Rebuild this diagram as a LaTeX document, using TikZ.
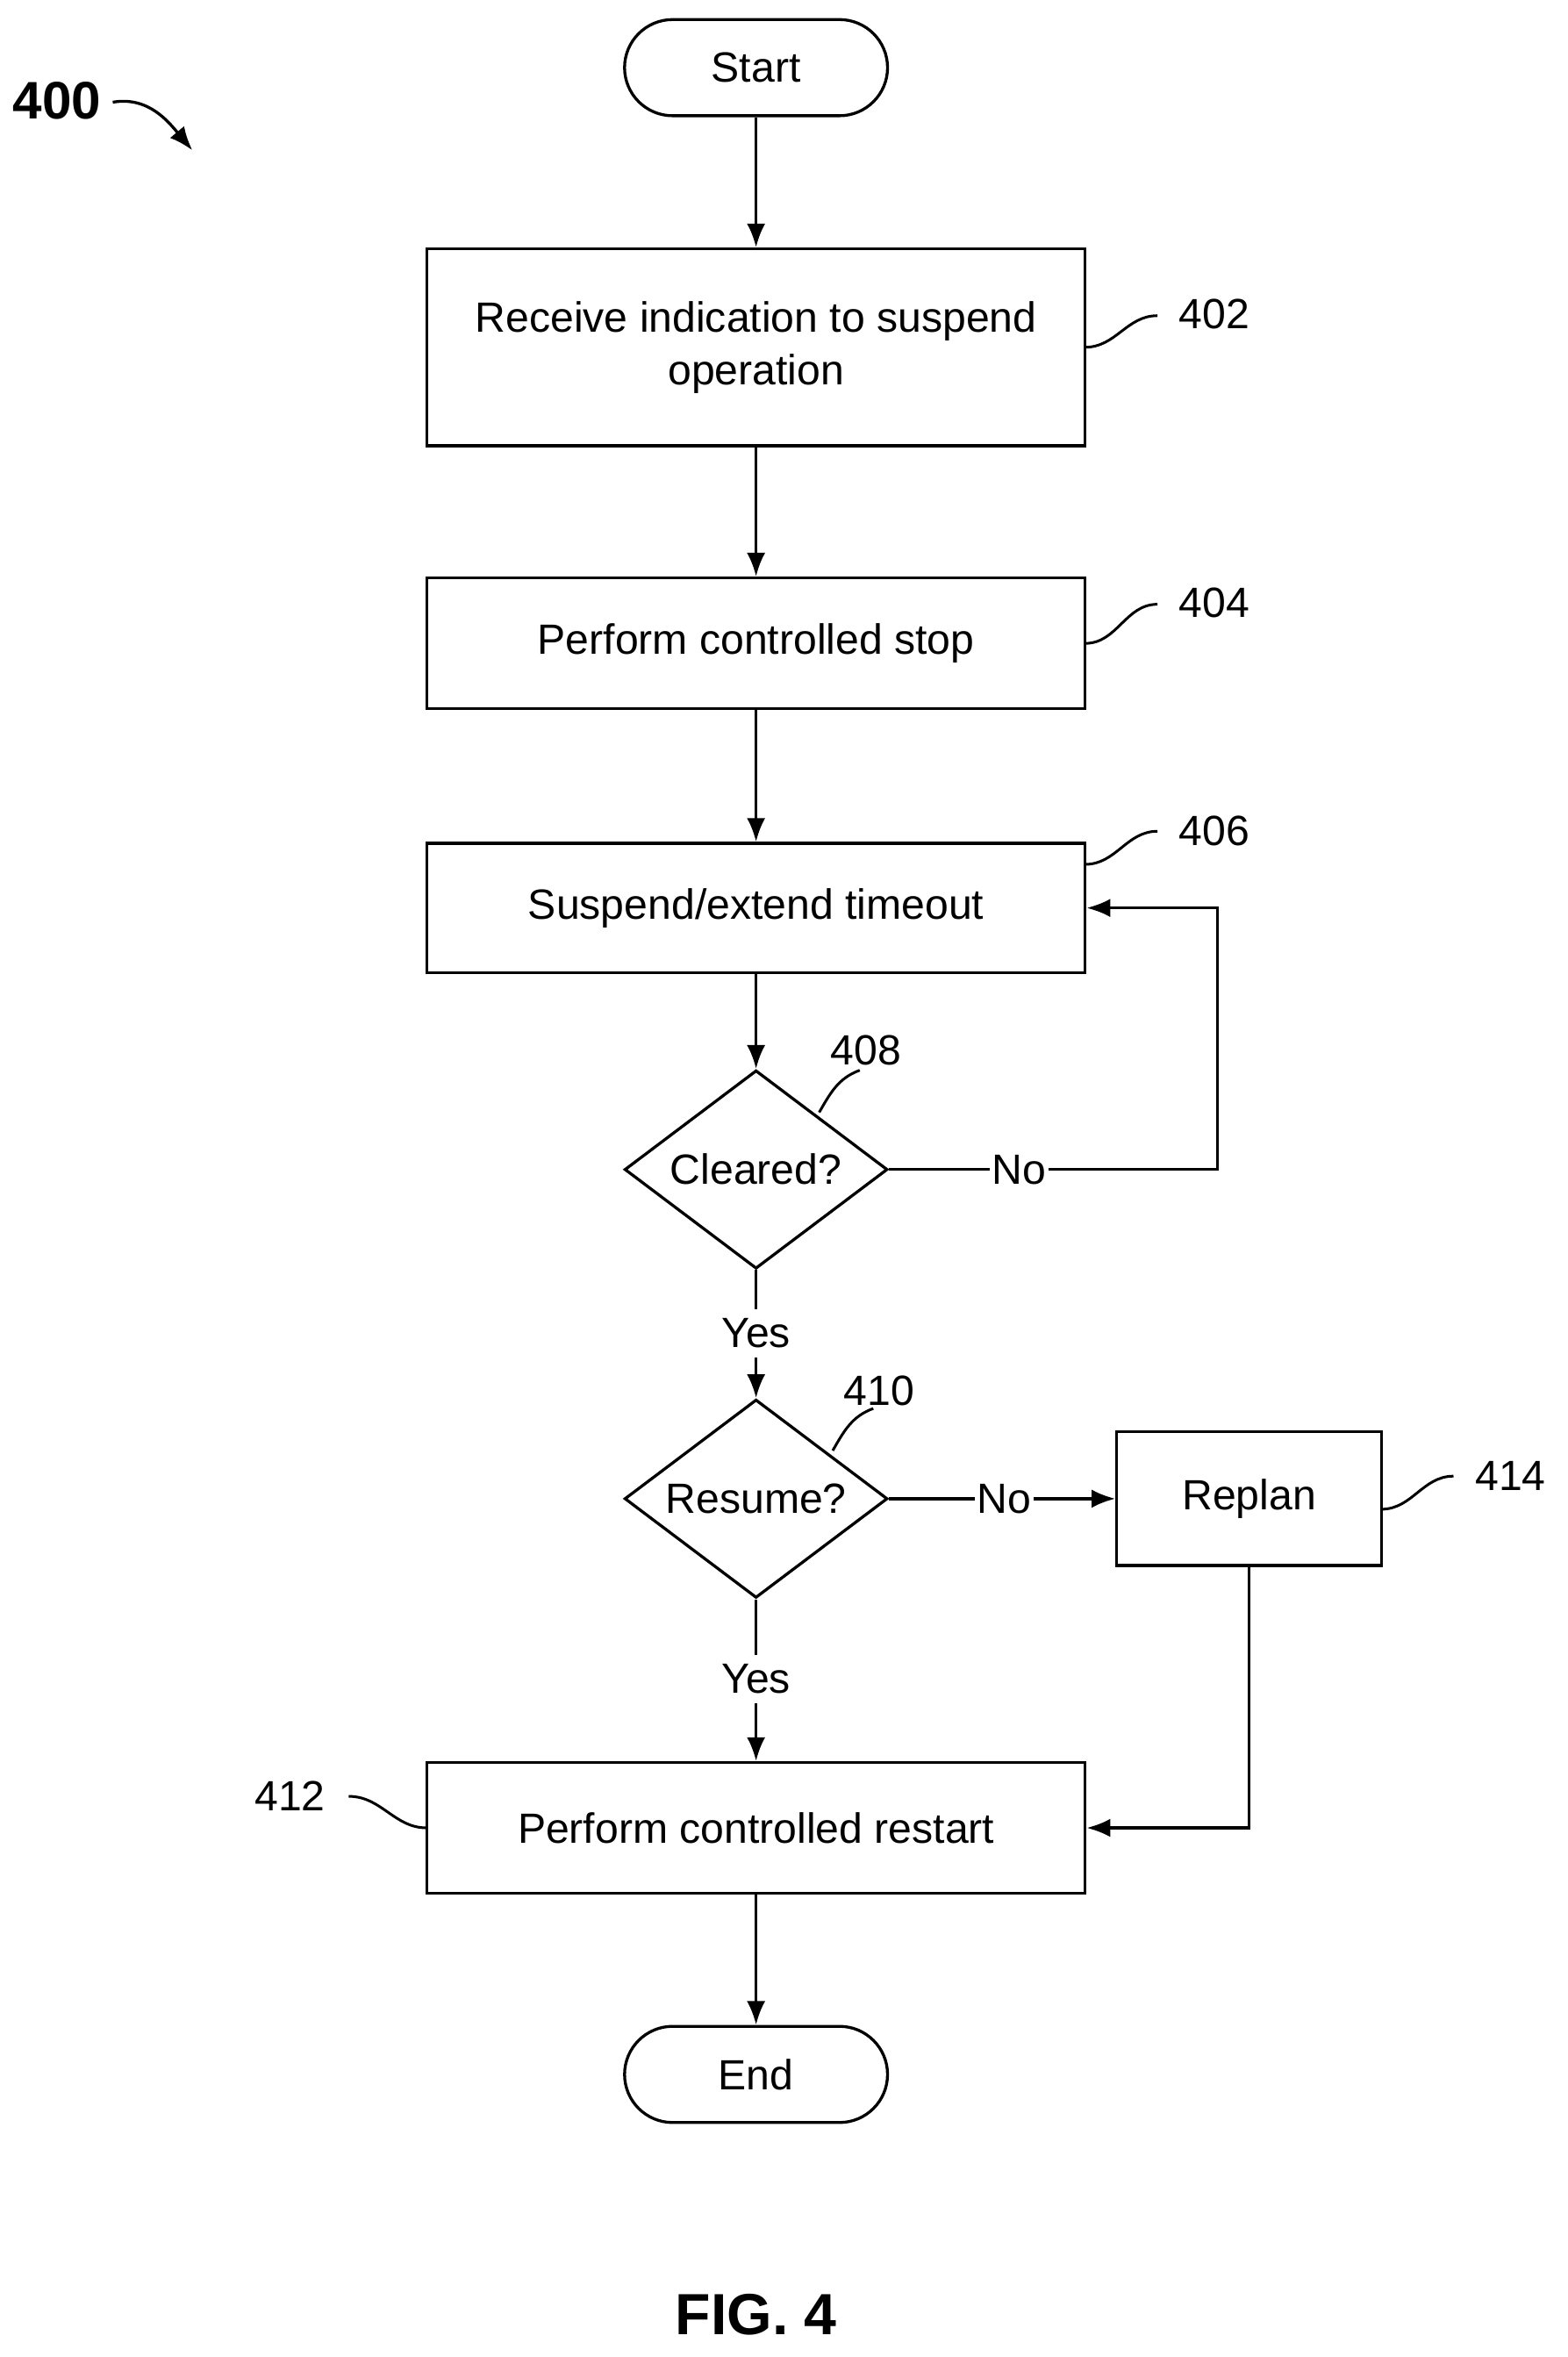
\documentclass[tikz,border=0pt]{standalone}
\usepackage{fontspec}
\setmainfont{Liberation Sans}
\usetikzlibrary{shapes.geometric,arrows.meta}
\begin{document}
\begin{tikzpicture}[x=0.02cm,y=-0.02cm,
    every node/.append style = {font = \fontsize{16}{20}\selectfont},
    box/.style = {draw, line width=1.1pt, minimum width=8.76cm, align=center},
    term/.style = {draw, line width=1.1pt, rounded corners=0.64cm, minimum width=3.5cm, minimum height=1.28cm},
    dec/.style = {draw, line width=1.1pt, diamond, aspect=1.33, minimum width=3.5cm, minimum height=2.64cm, inner sep=0pt},
    flow/.style = {line width=1.1pt, -{Latex[length=9pt,width=7pt]}},
    tag/.style = {line width=1pt}]
    \useasboundingbox (0,0) rectangle (1043,1568);
    % nodes
    \node[term] (start) at (503,45) {Start};
    \node[box, minimum height=2.62cm] (recv) at (503,231) {Receive indication to suspend\\operation};
    \node[box, minimum height=1.74cm] (stop) at (503,428) {Perform controlled stop};
    \node[box, minimum height=1.72cm] (susp) at (503,604) {Suspend/extend timeout};
    \node[dec] (clear) at (503,778) {Cleared?};
    \node[dec] (resume) at (503,997) {Resume?};
    \node[draw, line width=1.1pt, minimum width=3.52cm, minimum height=1.78cm] (replan) at (831,997) {Replan};
    \node[box, minimum height=1.74cm] (restart) at (503,1216) {Perform controlled restart};
    \node[term] (end) at (503,1380) {End};
    \node (yesa) at (503,887) {Yes};
    \node (yesb) at (503,1117) {Yes};
    \coordinate (loop) at (810,778);
    % connectors
    \draw[flow] (start) -- (recv);
    \draw[flow] (recv) -- (stop);
    \draw[flow] (stop) -- (susp);
    \draw[flow] (susp) -- (clear);
    \draw[line width=1.1pt] (clear) -- (yesa);
    \draw[flow] (yesa) -- (resume);
    \draw[line width=1.1pt] (resume) -- (yesb);
    \draw[flow] (yesb) -- (restart);
    \draw[flow] (restart) -- (end);
    \draw[flow] (clear.east) -- (loop) |- (susp.east);
    \node[fill=white, inner sep=1pt] at (678,778) {No};
    \draw[flow] (resume.east) -- (replan.west);
    \node[fill=white, inner sep=1pt] at (668,997) {No};
    \draw[flow] (replan.south) |- (restart.east);
    % reference labels
    \node (n402) at (808,209) {402};
    \node (n404) at (808,401) {404};
    \node (n406) at (808,553) {406};
    \node (n408) at (576,699) {408};
    \node (n410) at (585,925) {410};
    \node (n414) at (1005,982) {414};
    \node (n412) at (193,1195) {412};
    \draw[tag] (722,231) to[out=0,in=180] (770,210);
    \draw[tag] (722,428) to[out=0,in=180] (770,402);
    \draw[tag] (722,575) to[out=0,in=180] (770,553);
    \draw[tag] (545,740) to[out=60,in=200] (572,712);
    \draw[tag] (554,965) to[out=60,in=200] (581,937);
    \draw[tag] (919,1004) to[out=0,in=180] (967,982);
    \draw[tag] (232,1195) to[out=0,in=180] (284,1216);
    \node[font=\fontsize{20}{24}\selectfont\bfseries] (n400) at (38,67) {400};
    \draw[line width=1.1pt, -{Latex[length=9pt,width=7pt]}] (75,68) to[out=10,in=130] (128,100);
    \node[font=\fontsize{22}{26}\selectfont\bfseries] (fig) at (503,1540) {FIG. 4};
\end{tikzpicture}
\end{document}
